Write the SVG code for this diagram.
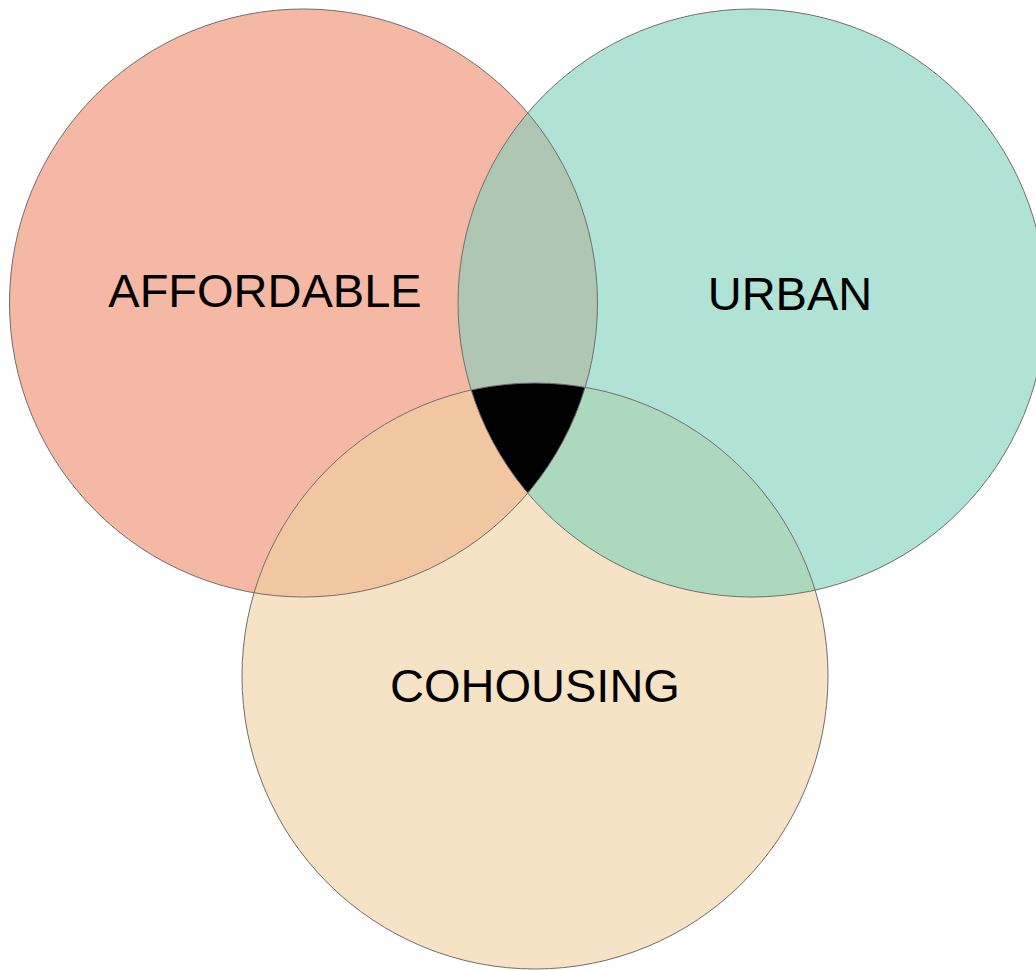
<svg xmlns="http://www.w3.org/2000/svg" width="1036" height="971" viewBox="0 0 1036 971">
<style>
.ln{fill:none;stroke:#6f6f6f;stroke-width:1}
.lb{font-family:"Liberation Sans",Arial,sans-serif;font-size:47px;fill:#000;text-anchor:middle}
</style>
<defs>
<clipPath id="cA"><circle cx="303.5" cy="303" r="294"/></clipPath>
<clipPath id="cU"><circle cx="752" cy="303" r="294"/></clipPath>
<clipPath id="cC"><circle cx="535" cy="676" r="293"/></clipPath>
</defs>
<rect width="1036" height="971" fill="#fff"/>
<g id="affordable">
<circle cx="303.5" cy="303" r="294" fill="#f5b8a4"/>
</g>
<g id="urban">
<circle cx="752" cy="303" r="294" fill="#b0e2d5"/>
</g>
<g id="cohousing">
<circle cx="535" cy="676" r="293" fill="#f6e2c4"/>
</g>
<g id="overlaps">
<g clip-path="url(#cA)"><circle cx="752" cy="303" r="294" fill="#aec6b2"/></g>
<g clip-path="url(#cA)"><circle cx="535" cy="676" r="293" fill="#f2c6a0"/></g>
<g clip-path="url(#cU)"><circle cx="535" cy="676" r="293" fill="#acd8bd"/></g>
<g clip-path="url(#cA)"><g clip-path="url(#cU)"><circle cx="535" cy="676" r="293" fill="#000"/></g></g>
</g>
<g id="outlines">
<circle class="ln" cx="303.5" cy="303" r="294"/>
<circle class="ln" cx="752" cy="303" r="294"/>
<circle class="ln" cx="535" cy="676" r="293"/>
</g>
<g id="labels">
<text class="lb" x="265" y="307">AFFORDABLE</text>
<text class="lb" x="790" y="310">URBAN</text>
<text class="lb" x="535" y="702">COHOUSING</text>
</g>
</svg>
